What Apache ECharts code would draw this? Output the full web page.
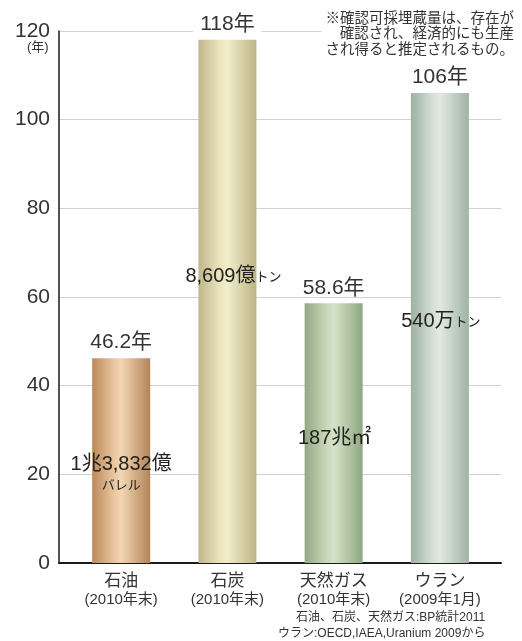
<!DOCTYPE html>
<html>
<head>
<meta charset="utf-8">
<script src="https://cdn.jsdelivr.net/npm/echarts@6/dist/echarts.min.js"></script>
<style>
html,body{margin:0;padding:0;background:#fff;}
#chart{width:522px;height:641px;}
</style>
</head>
<body>
<div id="chart"></div>
<script>
// ---- data ----
const categories = ['石油', '石炭', '天然ガス', 'ウラン'];
const periods = ['(2010年末)', '(2010年末)', '(2010年末)', '(2009年1月)'];
const years = [46.2, 118, 58.6, 106];
const reserveMain = ['1兆3,832億', '8,609億', '187兆㎡', '540万'];
const reserveUnit = ['バレル', 'トン', '', 'トン'];
const yTickMin = 0, yTickMax = 120, yTickStep = 20;

// ---- layout / style ----
const FONT = '"Liberation Sans", "Noto Sans CJK JP", sans-serif';
const reserveLevel = [19.9, 64.7, 28.2, 54.4];   // vertical level of inside labels (axis units)
const reserveShiftX = [0, 6, 1, 1];
const barGradients = [
  ['#bb895a', '#e6c29a', '#f3d7b4', '#b38357'],
  ['#bfb689', '#e9e3ba', '#f2eecb', '#bcb386'],
  ['#91a983', '#c6d4b6', '#d7e2c8', '#8fa781'],
  ['#9db1a3', '#d2ddd2', '#e2eae0', '#9fb3a5']
];
function grad(c) {
  return new echarts.graphic.LinearGradient(0, 0, 1, 0, [
    {offset: 0, color: c[0]},
    {offset: 0.35, color: c[1]},
    {offset: 0.5, color: c[2]},
    {offset: 1, color: c[3]}
  ]);
}

const chart = echarts.init(document.getElementById('chart'), null, {renderer: 'canvas'});

const mainData = years.map((v, i) => ({
  value: [i, v],
  itemStyle: {color: grad(barGradients[i])},
  label: i === 1 ? {backgroundColor: '#fff', padding: [0, 7]} : {}
}));

const innerData = years.map((v, i) => {
  const pct = (v - reserveLevel[i]) / v * 100;
  return {
    value: [i, v],
    label: {
      position: ['50%', pct.toFixed(2) + '%'],
      offset: [reserveShiftX[i], 0]
    }
  };
});

const option = {
  backgroundColor: '#fff',
  animation: false,
  grid: {left: 59, right: 21, top: 31, bottom: 78, containLabel: false},
  xAxis: {
    type: 'value',
    min: -0.585,
    max: 3.575,
    splitLine: {show: false},
    axisTick: {show: false},
    axisLine: {show: true, onZero: false, lineStyle: {color: '#1a1a1a', width: 2}},
    axisLabel: {
      show: true,
      customValues: [0, 1, 2, 3],
      margin: 8,
      formatter: function (v) {
        const i = Math.round(v);
        return '{n|' + categories[i] + '}\n{s|' + periods[i] + '}';
      },
      rich: {
        n: {fontFamily: FONT, fontSize: 17, color: '#333', lineHeight: 20, align: 'center'},
        s: {fontFamily: FONT, fontSize: 15, color: '#333', lineHeight: 18, align: 'center'}
      }
    }
  },
  yAxis: {
    type: 'value',
    min: yTickMin,
    max: yTickMax,
    interval: yTickStep,
    axisLine: {show: true, onZero: false, lineStyle: {color: '#1a1a1a', width: 1.5}},
    axisTick: {show: false},
    splitLine: {show: true, lineStyle: {color: '#d2d2d2', width: 1}},
    axisLabel: {fontFamily: FONT, fontSize: 21, color: '#333', margin: 9}
  },
  series: [
    {
      type: 'bar',
      name: 'years',
      barWidth: 58,
      barGap: '-100%',
      data: mainData,
      z: 3,
      label: {
        show: true,
        position: 'top',
        distance: 5,
        fontFamily: FONT,
        fontSize: 21,
        color: '#333',
        formatter: p => years[p.dataIndex] + '年'
      }
    },
    {
      type: 'bar',
      name: 'reserves',
      barWidth: 58,
      barGap: '-100%',
      silent: true,
      z: 4,
      itemStyle: {color: 'rgba(0,0,0,0)'},
      data: innerData,
      label: {
        show: true,
        align: 'center',
        verticalAlign: 'middle',
        formatter: function (p) {
          const i = p.dataIndex;
          if (i === 0) return '{m|' + reserveMain[i] + '}\n{u|' + reserveUnit[i] + '}';
          if (!reserveUnit[i]) return '{m|' + reserveMain[i] + '}';
          return '{m|' + reserveMain[i] + '}{u|' + reserveUnit[i] + '}';
        },
        rich: {
          m: {fontFamily: FONT, fontSize: 20, color: '#222', lineHeight: 20},
          u: {fontFamily: FONT, fontSize: 13, color: '#222', lineHeight: 20, padding: [2, 0, 0, 0]}
        }
      }
    }
  ],
  graphic: [
    {
      type: 'text',
      right: 6,
      top: 9,
      z: 100,
      style: {
        text: '※確認可採埋蔵量は、存在が\n確認され、経済的にも生産\nされ得ると推定されるもの。',
        font: '14.5px ' + FONT,
        lineHeight: 15.5,
        fill: '#333',
        textAlign: 'right',
        backgroundColor: '#fff',
        padding: [2, 2, 2, 4]
      }
    },
    {
      type: 'text',
      left: 27,
      top: 41,
      z: 100,
      style: {text: '(年)', font: '13px ' + FONT, fill: '#333'}
    },
    {
      type: 'text',
      left: 296,
      top: 612,
      z: 100,
      style: {
        text: '石油、石炭、天然ガス:BP統計2011',
        font: '12px ' + FONT,
        fill: '#333'
      }
    },
    {
      type: 'text',
      left: 278,
      top: 628,
      z: 100,
      style: {
        text: 'ウラン:OECD,IAEA,Uranium 2009から',
        font: '12px ' + FONT,
        fill: '#333'
      }
    }
  ]
};

chart.setOption(option);
</script>
</body>
</html>
